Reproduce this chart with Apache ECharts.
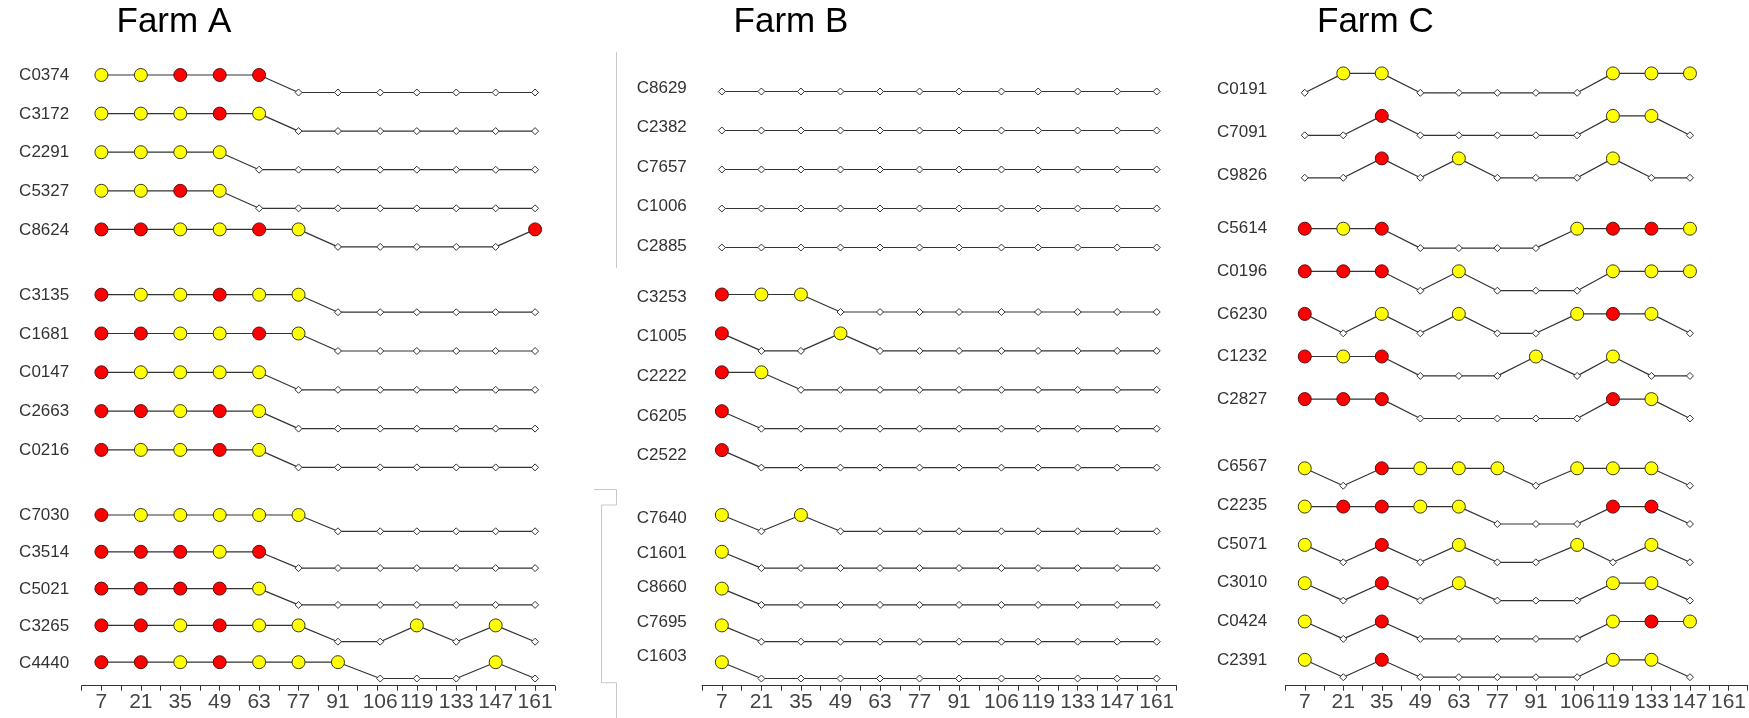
<!DOCTYPE html>
<html>
<head>
<meta charset="utf-8">
<script src="https://cdn.jsdelivr.net/npm/echarts@6/dist/echarts.min.js"></script>
<style>
html,body{margin:0;padding:0;background:#fff;}
#chart{width:1749px;height:718px;}
</style>
</head>
<body>
<div id="chart"></div>
<script>
// ---------------- DATA ----------------
// status codes: 0 = negative (small diamond), 1 = yellow, 2 = red
const daysAB = [7, 21, 35, 49, 63, 77, 91, 106, 119, 133, 147, 161];
const daysC  = [7, 21, 35, 49, 63, 77, 91, 106, 119, 133, 147];
const xTickLabels = [7, 21, 35, 49, 63, 77, 91, 106, 119, 133, 147, 161];
const panelTitles = ['Farm A', 'Farm B', 'Farm C'];

const farmA_names = [
  ['C0374', 'C3172', 'C2291', 'C5327', 'C8624'],
  ['C3135', 'C1681', 'C0147', 'C2663', 'C0216'],
  ['C7030', 'C3514', 'C5021', 'C3265', 'C4440']
];
const farmA_status = [
  [[1,1,2,2,2,0,0,0,0,0,0,0],
   [1,1,1,2,1,0,0,0,0,0,0,0],
   [1,1,1,1,0,0,0,0,0,0,0,0],
   [1,1,2,1,0,0,0,0,0,0,0,0],
   [2,2,1,1,2,1,0,0,0,0,0,2]],
  [[2,1,1,2,1,1,0,0,0,0,0,0],
   [2,2,1,1,2,1,0,0,0,0,0,0],
   [2,1,1,1,1,0,0,0,0,0,0,0],
   [2,2,1,2,1,0,0,0,0,0,0,0],
   [2,1,1,2,1,0,0,0,0,0,0,0]],
  [[2,1,1,1,1,1,0,0,0,0,0,0],
   [2,2,2,1,2,0,0,0,0,0,0,0],
   [2,2,2,2,1,0,0,0,0,0,0,0],
   [2,2,1,2,1,1,0,0,1,0,1,0],
   [2,2,1,2,1,1,1,0,0,0,1,0]]
];

const farmB_names = [
  ['C8629', 'C2382', 'C7657', 'C1006', 'C2885'],
  ['C3253', 'C1005', 'C2222', 'C6205', 'C2522'],
  ['C7640', 'C1601', 'C8660', 'C7695', 'C1603']
];
const farmB_status = [
  [[0,0,0,0,0,0,0,0,0,0,0,0],
   [0,0,0,0,0,0,0,0,0,0,0,0],
   [0,0,0,0,0,0,0,0,0,0,0,0],
   [0,0,0,0,0,0,0,0,0,0,0,0],
   [0,0,0,0,0,0,0,0,0,0,0,0]],
  [[2,1,1,0,0,0,0,0,0,0,0,0],
   [2,0,0,1,0,0,0,0,0,0,0,0],
   [2,1,0,0,0,0,0,0,0,0,0,0],
   [2,0,0,0,0,0,0,0,0,0,0,0],
   [2,0,0,0,0,0,0,0,0,0,0,0]],
  [[1,0,1,0,0,0,0,0,0,0,0,0],
   [1,0,0,0,0,0,0,0,0,0,0,0],
   [1,0,0,0,0,0,0,0,0,0,0,0],
   [1,0,0,0,0,0,0,0,0,0,0,0],
   [1,0,0,0,0,0,0,0,0,0,0,0]]
];

const farmC_names = [
  ['C0191', 'C7091', 'C9826'],
  ['C5614', 'C0196', 'C6230', 'C1232', 'C2827'],
  ['C6567', 'C2235', 'C5071', 'C3010', 'C0424', 'C2391']
];
const farmC_status = [
  [[0,1,1,0,0,0,0,0,1,1,1],
   [0,0,2,0,0,0,0,0,1,1,0],
   [0,0,2,0,1,0,0,0,1,0,0]],
  [[2,1,2,0,0,0,0,1,2,2,1],
   [2,2,2,0,1,0,0,0,1,1,1],
   [2,0,1,0,1,0,0,1,2,1,0],
   [2,1,2,0,0,0,1,0,1,0,0],
   [2,2,2,0,0,0,0,0,2,1,0]],
  [[1,0,2,1,1,1,0,1,1,1,0],
   [1,2,2,1,1,0,0,0,2,2,0],
   [1,0,2,0,1,0,0,1,0,1,0],
   [1,0,2,0,1,0,0,0,1,1,0],
   [1,0,2,0,0,0,0,0,1,2,1],
   [1,0,2,0,0,0,0,0,1,1,0]]
];

// ---------------- LAYOUT (styles / positions) ----------------
const FONT = "'Liberation Sans', Arial, Helvetica, sans-serif";
const PLOT_BOTTOM = 685.7;   // y of the x axis line (layout units = px)
const panels = [
  { names: farmA_names, status: farmA_status, days: daysAB,
    gridLeft: 81.7, gridWidth: 473.1, labelMargin: 12.5, titleLeft: 116.5,
    groups: [
      {top: 75,    step: 38.6, neg: 17.5, labTop: 75.5,  labStep: 38.6},
      {top: 294.7, step: 38.8, neg: 17.5, labTop: 295.2, labStep: 38.8},
      {top: 515,   step: 36.8, neg: 16.3, labTop: 515.8, labStep: 36.8}
    ]},
  { names: farmB_names, status: farmB_status, days: daysAB,
    gridLeft: 702.1, gridWidth: 474.4, labelMargin: 15.3, titleLeft: 733.6,
    groups: [
      {top: 75,    step: 39.0, neg: 16.5, labTop: 88,    labStep: 39.6},
      {top: 294.5, step: 38.9, neg: 17.5, labTop: 297,   labStep: 39.7},
      {top: 515,   step: 36.8, neg: 16.3, labTop: 518.3, labStep: 34.6}
    ]},
  { names: farmC_names, status: farmC_status, days: daysC,
    gridLeft: 1285.5, gridWidth: 473.4, labelMargin: 18.4, titleLeft: 1317,
    groups: [
      {top: 73.4,  step: 42.5, neg: 19.4, labTop: 89.3,  labStep: 43.2},
      {top: 228.7, step: 42.6, neg: 19.4, labTop: 228.7, labStep: 42.6},
      {top: 468.3, step: 38.3, neg: 17.4, labTop: 466.7, labStep: 38.7}
    ]}
];

const markerStyle = [
  {symbol: 'diamond', size: 7,  color: '#ffffff', border: '#333333', bw: 1},
  {symbol: 'circle',  size: 13, color: '#ffff00', border: '#3a3a1a', bw: 1},
  {symbol: 'circle',  size: 13, color: '#ff0000', border: '#5a1010', bw: 1}
];

const ticks7 = [];
for (let t = 0; t <= 168; t += 7) ticks7.push(t);

const grids = [], xAxes = [], yAxes = [], series = [], titles = [];

panels.forEach((p, pi) => {
  grids.push({left: p.gridLeft, width: p.gridWidth, top: 0, height: PLOT_BOTTOM, containLabel: false});
  xAxes.push({
    type: 'value', gridIndex: pi, min: 0, max: 168, interval: 7,
    axisLine: {show: true, onZero: false, lineStyle: {color: '#333', width: 1}},
    axisTick: {show: true, length: 5, customValues: ticks7, lineStyle: {color: '#333', width: 1}},
    axisLabel: {customValues: xTickLabels, fontSize: 21, color: '#444', margin: 6, fontFamily: FONT},
    splitLine: {show: false}
  });
  const labVals = [], labMap = new Map();
  p.groups.forEach((g, gi) => {
    p.names[gi].forEach((name, ri) => {
      const ly = g.labTop + ri * g.labStep;
      labVals.push(ly);
      labMap.set(Math.round(ly * 10), name);
      const baseY = g.top + ri * g.step;
      const data = p.status[gi][ri].map((st, k) => {
        const m = markerStyle[st];
        return {
          value: [p.days[k], st === 0 ? baseY + g.neg : baseY],
          symbol: m.symbol, symbolSize: m.size,
          itemStyle: {color: m.color, borderColor: m.border, borderWidth: m.bw}
        };
      });
      series.push({
        type: 'line', name: name, xAxisIndex: pi, yAxisIndex: pi, data: data,
        showAllSymbol: true, silent: true, animation: false,
        lineStyle: {color: '#333', width: 1.2},
        emphasis: {disabled: true}
      });
    });
  });
  yAxes.push({
    type: 'value', gridIndex: pi, min: 0, max: PLOT_BOTTOM, inverse: true,
    axisLine: {show: false}, axisTick: {show: false}, splitLine: {show: false},
    axisLabel: {
      customValues: labVals, fontSize: 17, color: '#333', margin: p.labelMargin, fontFamily: FONT,
      formatter: v => labMap.get(Math.round(v * 10)) || ''
    }
  });
  titles.push({
    text: panelTitles[pi], left: p.titleLeft, top: 5, padding: 0,
    textStyle: {fontSize: 35, fontWeight: 'normal', color: '#000', fontFamily: FONT}
  });
});

const decoColor = '#c8c8c8';
const option = {
  backgroundColor: '#ffffff',
  animation: false,
  title: titles,
  grid: grids,
  xAxis: xAxes,
  yAxis: yAxes,
  series: series,
  graphic: [
    {type: 'line', shape: {x1: 616.5, y1: 52, x2: 616.5, y2: 268}, style: {stroke: decoColor, lineWidth: 1}, silent: true},
    {type: 'polyline', shape: {points: [[594, 489.5], [616.5, 489.5], [616.5, 505], [601.5, 505], [601.5, 682.7], [616.5, 682.7], [616.5, 718]]},
     style: {stroke: decoColor, lineWidth: 1, fill: null}, silent: true}
  ]
};

const chart = echarts.init(document.getElementById('chart'), null, {renderer: 'canvas'});
chart.setOption(option);
</script>
</body>
</html>
